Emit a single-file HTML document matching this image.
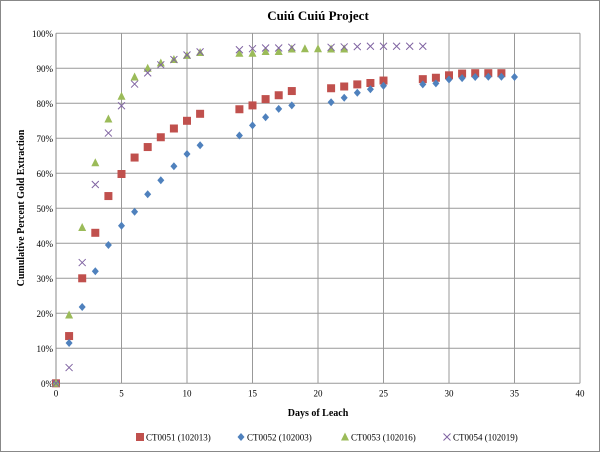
<!DOCTYPE html>
<html><head><meta charset="utf-8"><style>
body{margin:0;background:#fff;}
svg{display:block;font-family:"Liberation Serif",serif;}
</style></head><body>
<svg id="c" width="600" height="452">
<rect x="0.5" y="0.5" width="599" height="451" fill="#fff" stroke="#888"/>
<text x="318" y="20" text-anchor="middle" font-size="13" font-weight="bold">Cuiú Cuiú Project</text>
<text transform="translate(24,208) rotate(-90)" text-anchor="middle" font-size="10" font-weight="bold">Cumulative Percent Gold Extraction</text>
<text x="318" y="416" text-anchor="middle" font-size="10" font-weight="bold">Days of Leach</text>
<g id="grid"></g><g id="marks"></g><g id="legend"></g>
</svg>
<script>
const xTicks=[0,5,10,15,20,25,30,35,40];
const yTicks=[0,10,20,30,40,50,60,70,80,90,100];
const seriesNames=["CT0051 (102013)","CT0052 (102003)","CT0053 (102016)","CT0054 (102019)"];
const days51=[0,1,2,3,4,5,6,7,8,9,10,11,14,15,16,17,18,21,22,23,24,25,28,29,30,31,32,33,34];
const vals51=[0,13.5,30,43,53.5,59.8,64.5,67.5,70.3,72.8,75,77,78.3,79.4,81.2,82.3,83.5,84.3,84.8,85.4,85.8,86.5,86.9,87.3,88,88.5,88.6,88.6,88.6];
const days52=[0,1,2,3,4,5,6,7,8,9,10,11,14,15,16,17,18,21,22,23,24,25,28,29,30,31,32,33,34,35];
const vals52=[0,11.5,21.8,32,39.5,45,49,54,58,62,65.5,68,70.8,73.7,76,78.4,79.4,80.3,81.6,83,84,85,85.4,85.7,86.8,87.2,87.5,87.6,87.6,87.5];
const days53=[0,1,2,3,4,5,6,7,8,9,10,11,14,15,16,17,18,19,20,21,22];
const vals53=[0,19.5,44.5,63,75.5,82,87.5,90,91.5,92.5,93.7,94.5,94.3,94.3,94.8,94.8,95.5,95.6,95.6,95.5,95.5];
const days54=[0,1,2,3,4,5,6,7,8,9,10,11,14,15,16,17,18,21,22,23,24,25,26,27,28];
const vals54=[0,4.5,34.5,56.8,71.5,79.3,85.5,88.7,91,92.5,93.8,94.7,95.3,95.6,95.8,95.8,96,96,96.1,96.2,96.3,96.3,96.3,96.3,96.3];
const X0=56,X1=580,Y0=383.3,Y1=33.3;
const sx=d=>X0+(X1-X0)*d/40, sy=v=>Y0-(Y0-Y1)*v/100;
const NS="http://www.w3.org/2000/svg";
function mk(t,a,p){const e=document.createElementNS(NS,t);for(const k in a)e.setAttribute(k,a[k]);p.appendChild(e);return e;}
const g=document.getElementById('grid');
yTicks.forEach(v=>{const l=mk('line',{x1:X0,x2:X1,y1:sy(v),y2:sy(v),stroke:'#999','stroke-width':1},g);


const t=mk('text',{x:X0-3,y:sy(v)+3.5,'text-anchor':'end','font-size':9},g);t.textContent=v+'%';

});
xTicks.forEach(d=>{const l=mk('line',{x1:sx(d),x2:sx(d),y1:Y1,y2:Y0,stroke:d==0?'#888':'#999','stroke-width':1},g);


const t=mk('text',{x:sx(d),y:Y0+13,'text-anchor':'middle','font-size':9},g);t.textContent=d;

});
const m=document.getElementById('marks');
function marker(kind,x,y,p){let e;
if(kind==0)e=mk('rect',{x:x-4,y:y-4,width:8,height:8,fill:'#c0504d'},p);
else if(kind==1)e=mk('polygon',{points:`${x},${y-4} ${x+3.5},${y} ${x},${y+4} ${x-3.5},${y}`,fill:'#4f81bd'},p);
else if(kind==2)e=mk('polygon',{points:`${x},${y-4.5} ${x+4},${y+3.5} ${x-4},${y+3.5}`,fill:'#9bbb59'},p);
else e=mk('path',{d:`M${x-3.5},${y-3.5}L${x+3.5},${y+3.5}M${x+3.5},${y-3.5}L${x-3.5},${y+3.5}`,stroke:'#8064a2','stroke-width':1},p);
return e;}
const D=[[days51,vals51],[days52,vals52],[days53,vals53],[days54,vals54]];
D.forEach(([ds,vs],k)=>ds.forEach((d,i)=>{const e=marker(k,sx(d),sy(vs[i]),m);

}));
const lg=document.getElementById('legend');const lx=[145,246,350,452];
seriesNames.forEach((n,k)=>{const e=marker(k,lx[k]-5,437,lg);


const t=mk('text',{x:lx[k]+1,y:440.5,'font-size':9},lg);t.textContent=n;

});
</script>
</body></html>
